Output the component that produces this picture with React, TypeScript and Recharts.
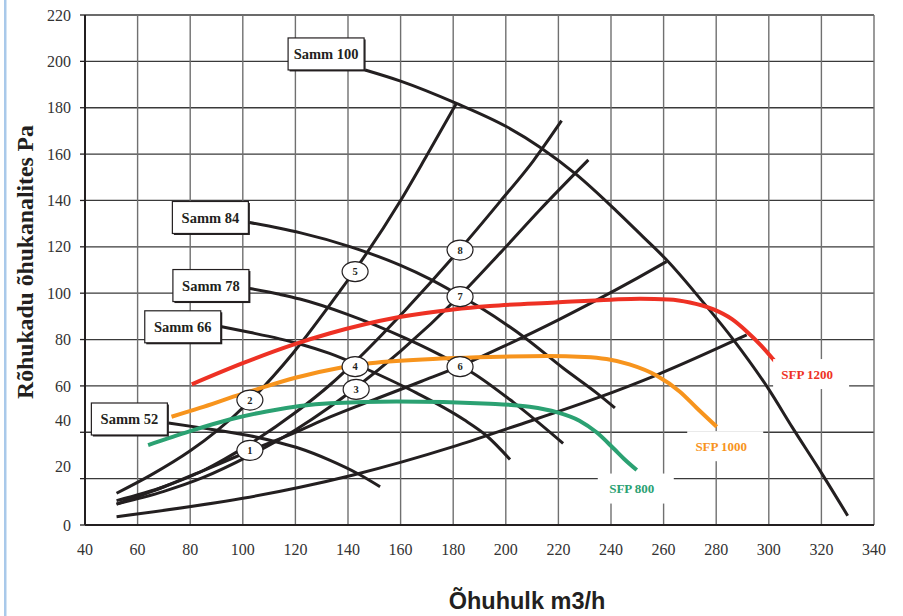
import React from 'react';
import { LineChart, Line, XAxis, YAxis, CartesianGrid, ReferenceDot } from 'recharts';

type Pt = [number, number];

// Fan curves (airflow m3/h, pressure Pa) for each fan step
const SAMM_100: Pt[] = [
  [146.5, 196.3], [160, 191.5], [181, 182], [200, 172], [213, 163], [227, 151],
  [242, 135.5], [252, 124.5], [261, 114.5], [274, 97.5], [286.5, 80], [300, 58.5],
  [309, 42], [320, 22.5], [330, 4],
];
const SAMM_84: Pt[] = [
  [102.5, 130.5], [114, 128], [122, 126], [141, 120], [148, 117.3], [160, 112],
  [171, 106.2], [181, 100], [190, 94], [207, 81], [222, 67.5], [234.5, 57], [241.5, 50.5],
];
const SAMM_78: Pt[] = [
  [102.7, 102], [114, 99.5], [121.7, 97.5], [139.5, 91], [162, 80.5], [179, 71],
  [187.6, 65.5], [202.8, 53], [221.8, 35.2],
];
const SAMM_66: Pt[] = [
  [92, 85.5], [103, 83], [114, 80.3], [122, 78], [133, 74], [142.7, 69.5],
  [147, 67.3], [166, 57], [184, 45.5], [192.7, 38.5], [201.6, 28.3],
];
const SAMM_52: Pt[] = [
  [71.7, 44], [83.7, 42], [102.7, 38.5], [114, 35.5], [121.7, 33], [133, 28],
  [144, 22], [152.2, 16.5],
];

// Duct system curves
const SYSTEM_1: Pt[] = [
  [52, 13.7], [65, 21.5], [80, 32], [90, 40.5], [102.7, 53.5], [119, 74], [137, 101],
  [142.7, 110], [160, 140], [170, 159.5], [181.3, 182],
];
const SYSTEM_2: Pt[] = [
  [52, 10.5], [70, 16.5], [85, 23.5], [102.7, 35], [120, 48.5], [133.2, 60.5], [142.7, 70.5],
  [162, 93], [182.6, 119], [197.8, 139.5], [210.4, 157], [221.2, 174.4],
];
const SYSTEM_3: Pt[] = [
  [52, 9], [70, 14.5], [85, 20.5], [102.7, 30], [120, 41], [133.2, 51], [142.7, 59],
  [160, 75], [182.6, 99], [198, 117.5], [213, 136], [231.4, 157.5],
];
const SYSTEM_4: Pt[] = [
  [52, 9], [70, 16.5], [85, 23.5], [102.7, 32], [120, 40], [133, 46.5], [152, 55],
  [168, 62], [182.6, 68.5], [200, 77.5], [220, 88.5], [234.5, 97], [250, 106.5], [261.1, 113.6],
];
const SYSTEM_5: Pt[] = [
  [52, 3.6], [100, 11.5], [121.7, 16.3], [142, 21.6], [180, 33.8], [202.8, 42.4],
  [234.5, 54.7], [257.3, 64.7], [291.6, 82],
];

// Specific fan power iso-lines
const SFP_1200: Pt[] = [
  [80.6, 60.7], [100, 69.8], [119.2, 77.8], [133.2, 82.7], [158.5, 89.5], [180, 93],
  [194, 94.5], [219, 96], [240, 97.2], [251, 97.6], [262, 97.3], [270, 96], [279, 93],
  [286, 88.8], [291.6, 83.5], [297, 77.5], [302.4, 70.5],
];
const SFP_1000: Pt[] = [
  [72.9, 46.7], [83.7, 50.5], [97.7, 55.8], [105.3, 58.5], [120, 63.5], [137, 67.8],
  [148.4, 69.8], [177.5, 71.9], [194, 72.5], [215.5, 72.9], [230, 72.5], [238.3, 71.6],
  [247, 69.3], [257.3, 64.5], [266.2, 57.5], [272.6, 50.5], [280.2, 42.4],
];
const SFP_800: Pt[] = [
  [64, 34.5], [80, 40.5], [95, 45.5], [109, 49], [133.2, 52.5], [158.5, 53.3], [194, 52.3],
  [209, 51], [219.3, 48.7], [228, 45], [234.5, 40], [241, 33], [245, 28.5], [249.8, 23.7],
];

// Numbered operating points
const POINT_NAMES = ['1', '2', '3', '4', '5', '6', '7', '8'];
const POINT_FLOW = [102.7, 102.7, 143.1, 142.7, 142.7, 182.6, 182.6, 182.6];
const POINT_PRESSURE = [32.2, 53.9, 58.5, 68.3, 109.3, 68.3, 98.5, 118.6];

const X_TICKS = [40, 60, 80, 100, 120, 140, 160, 180, 200, 220, 240, 260, 280, 300, 320, 340];
const Y_TICKS = [0, 20, 40, 60, 80, 100, 120, 140, 160, 180, 200, 220];

const SERIF = '"Liberation Serif", "Times New Roman", serif';
const SANS = '"Liberation Sans", Arial, sans-serif';
const INK = '#231f20';

const rows = (pts: Pt[]) => pts.map(([x, y]) => ({ x, y }));

const FAN_CURVES = [
  { name: 'Samm 100', pts: SAMM_100 },
  { name: 'Samm 84', pts: SAMM_84 },
  { name: 'Samm 78', pts: SAMM_78 },
  { name: 'Samm 66', pts: SAMM_66 },
  { name: 'Samm 52', pts: SAMM_52 },
];
const SYSTEM_CURVES = [SYSTEM_1, SYSTEM_2, SYSTEM_3, SYSTEM_4, SYSTEM_5];
const SFP_CURVES = [
  { name: 'SFP 1200', pts: SFP_1200, color: '#ee3124' },
  { name: 'SFP 1000', pts: SFP_1000, color: '#f7941d' },
  { name: 'SFP 800', pts: SFP_800, color: '#2ba172' },
];

// label box placement relative to the start of each fan curve
const FAN_LABEL_DY: Record<string, number> = {
  'Samm 100': -16,
  'Samm 84': -5,
  'Samm 78': -3,
  'Samm 66': 0,
  'Samm 52': -4,
};
// SFP label placement relative to the end of each curve
const SFP_LABEL_OFFSET: Record<string, [number, number]> = {
  'SFP 1200': [32, 12.5],
  'SFP 1000': [4.5, 19.5],
  'SFP 800': [-5, 18.5],
};
const Y_TICK_NUDGE: Record<number, number> = { 20: -12, 40: -12 };

function YTick(props: any) {
  const { x, y, payload } = props;
  const dy = Y_TICK_NUDGE[payload.value] ?? 0;
  return (
    <text x={x} y={y + dy} dy="0.35em" textAnchor="end" fontFamily={SERIF} fontSize={16} fill="#333">
      {payload.value}
    </text>
  );
}

function XTick(props: any) {
  const { x, y, payload } = props;
  return (
    <text x={x} y={y} dy="0.71em" textAnchor="middle" fontFamily={SERIF} fontSize={16} fill="#333">
      {payload.value}
    </text>
  );
}

function FanLabel({ cx, cy, text }: any) {
  const w = 76;
  const h = 32;
  const x = cx - 1 - w;
  const y = cy + (FAN_LABEL_DY[text] ?? 0) - h / 2;
  return (
    <g>
      <rect x={x + 1.5} y={y + 1.5} width={w} height={h} fill={INK} />
      <rect x={x} y={y} width={w} height={h} fill="#fff" stroke={INK} strokeWidth={1.2} />
      <text x={x + w / 2} y={y + h / 2} dy="0.35em" textAnchor="middle" fontFamily={SERIF}
        fontWeight="bold" fontSize={14.5} fill={INK}>
        {text}
      </text>
    </g>
  );
}

function SfpLabel({ cx, cy, text, color }: any) {
  const [ox, oy] = SFP_LABEL_OFFSET[text] ?? [0, 0];
  const tx = cx + ox;
  const ty = cy + oy;
  return (
    <g>
      <rect x={tx - 34} y={ty - 15} width={76} height={30} fill="#fff" />
      <text x={tx} y={ty} dy="0.35em" textAnchor="middle" fontFamily={SERIF} fontWeight="bold"
        fontSize={13} fill={color}>
        {text}
      </text>
    </g>
  );
}

function PointBadge({ cx, cy, text }: any) {
  return (
    <g>
      <ellipse cx={cx} cy={cy} rx={13} ry={10} fill="#fff" stroke={INK} strokeWidth={1.2} />
      <text x={cx} y={cy} dy="0.35em" textAnchor="middle" fontFamily={SERIF} fontWeight="bold"
        fontSize={10.5} fill={INK}>
        {text}
      </text>
    </g>
  );
}

export default function App() {
  return (
    <div style={{ position: 'absolute', left: 0, top: 0, width: 903, height: 616, background: '#fff' }}>
      <LineChart width={903} height={616} margin={{ top: 15, right: 29, left: 45, bottom: 61 }}>
        <CartesianGrid vertical={false} stroke="#3a3a3a" strokeWidth={1.3} />
        <CartesianGrid horizontal={false} stroke="#707070" strokeWidth={1.4} />
        <XAxis
          dataKey="x"
          type="number"
          domain={[40, 340]}
          ticks={X_TICKS}
          allowDataOverflow
          height={30}
          tickLine={false}
          tickSize={5}
          tickMargin={14}
          axisLine={{ stroke: INK, strokeWidth: 2 }}
          tick={<XTick />}
        />
        <YAxis
          dataKey="y"
          type="number"
          domain={[0, 220]}
          ticks={Y_TICKS}
          allowDataOverflow
          width={40}
          tickSize={5}
          tickMargin={9}
          tickLine={{ stroke: INK, strokeWidth: 1.3 }}
          axisLine={{ stroke: INK, strokeWidth: 2 }}
          tick={<YTick />}
        />
        {SYSTEM_CURVES.map((pts, i) => (
          <Line key={`sys${i}`} data={rows(pts)} dataKey="y" type="monotone" dot={false}
            stroke={INK} strokeWidth={3} isAnimationActive={false} />
        ))}
        {FAN_CURVES.map((c) => (
          <Line key={c.name} data={rows(c.pts)} dataKey="y" type="monotone" dot={false}
            stroke={INK} strokeWidth={3} isAnimationActive={false} />
        ))}
        {SFP_CURVES.map((c) => (
          <Line key={c.name} data={rows(c.pts)} dataKey="y" type="monotone" dot={false}
            stroke={c.color} strokeWidth={4} isAnimationActive={false} />
        ))}
        {FAN_CURVES.map((c) => (
          <ReferenceDot key={`lbl-${c.name}`} x={c.pts[0][0]} y={c.pts[0][1]} r={0}
            shape={(p: any) => <FanLabel cx={p.cx} cy={p.cy} text={c.name} />} />
        ))}
        {SFP_CURVES.map((c) => (
          <ReferenceDot key={`lbl-${c.name}`} x={c.pts[c.pts.length - 1][0]} y={c.pts[c.pts.length - 1][1]} r={0}
            shape={(p: any) => <SfpLabel cx={p.cx} cy={p.cy} text={c.name} color={c.color} />} />
        ))}
        {POINT_NAMES.map((n, i) => (
          <ReferenceDot key={`pt-${n}`} x={POINT_FLOW[i]} y={POINT_PRESSURE[i]} r={0}
            shape={(p: any) => <PointBadge cx={p.cx} cy={p.cy} text={n} />} />
        ))}
      </LineChart>
      <svg width={903} height={616} style={{ position: 'absolute', left: 0, top: 0, pointerEvents: 'none' }}>
        <rect x={4} y={0} width={2.5} height={616} fill="#a9c9ea" />
        <text transform="rotate(-90)" x={-262} y={33} textAnchor="middle" fontFamily={SERIF}
          fontWeight="bold" fontSize={23.7} fill={INK}>
          Rõhukadu õhukanalites Pa
        </text>
        <text x={527} y={609} textAnchor="middle" fontFamily={SANS} fontWeight="bold" fontSize={23.5} fill={INK}>
          Õhuhulk m3/h
        </text>
      </svg>
    </div>
  );
}
